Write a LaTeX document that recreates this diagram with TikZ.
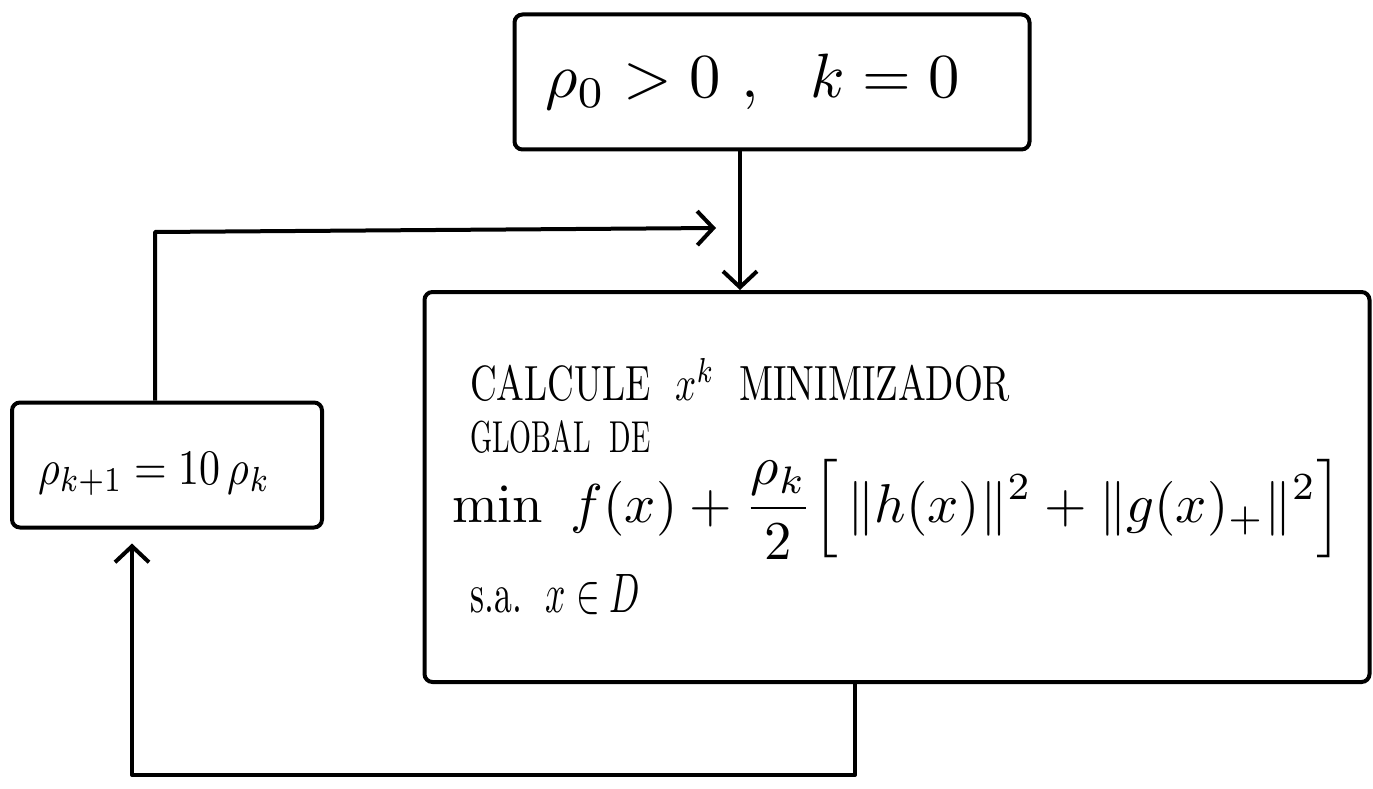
\documentclass[tikz,border=0pt]{standalone}
\usepackage{amsmath}
\usetikzlibrary{arrows.meta}
\begin{document}
\begin{tikzpicture}[x=1pt,y=-1pt,
  box/.style={draw, line width=4pt, rounded corners=8pt, inner sep=0pt},
  conn/.style={line width=4pt, line join=round},
  arr/.style={conn, -{Straight Barb[length=16pt,width=34pt,line width=4pt]}},
  txt/.style={anchor=base west, inner sep=0pt}]
\useasboundingbox (0,0) rectangle (1373,789);
% boxes
\node[box, minimum width=515pt, minimum height=135pt] (init) at (772,82) {};
\node[box, minimum width=945pt, minimum height=390pt] (big) at (897,487) {};
\node[box, minimum width=310pt, minimum height=125pt] (upd) at (167,465) {};
% texts
\node[txt] (tinit) at (545,98) {\resizebox{415pt}{!}{$\rho_0 > 0\ ,\ \ k = 0$}};
\node[txt] (tupd) at (38,484) {\resizebox{232pt}{32pt}{$\rho_{k+1} = 10\,\rho_k$}};
\node[txt] (l1) at (470,400) {\resizebox{540pt}{42pt}{CALCULE\ \ $x^k$\ \ MINIMIZADOR}};
\node[txt] (l2) at (470,452) {\resizebox{180pt}{32pt}{GLOBAL\ \ DE}};
\node[txt] (l3) at (452,522) {\resizebox{890pt}{!}{$\displaystyle \min\ f(x) + \frac{\rho_k}{2}\Bigl[\,\|h(x)\|^2 + \|g(x)_+\|^2\Bigr]$}};
\node[txt] (l4) at (470,612) {\resizebox{170pt}{38pt}{s.a.\ \ $x \in D$}};
% connectors
\coordinate (d) at (740,0);
\draw[arr] (init.south -| d) -- (big.north -| d);
\coordinate (b1) at (855,775);
\coordinate (b2) at (132,775);
\draw[arr, shorten >=14pt] (big.south -| b1) -- (b1) -- (b2) -- (upd.south -| b2);
\coordinate (t1) at (155,232);
\coordinate (t2) at (716,228);
\draw[arr] (upd.north -| t1) -- (t1) -- (t2);
\end{tikzpicture}
\end{document}
